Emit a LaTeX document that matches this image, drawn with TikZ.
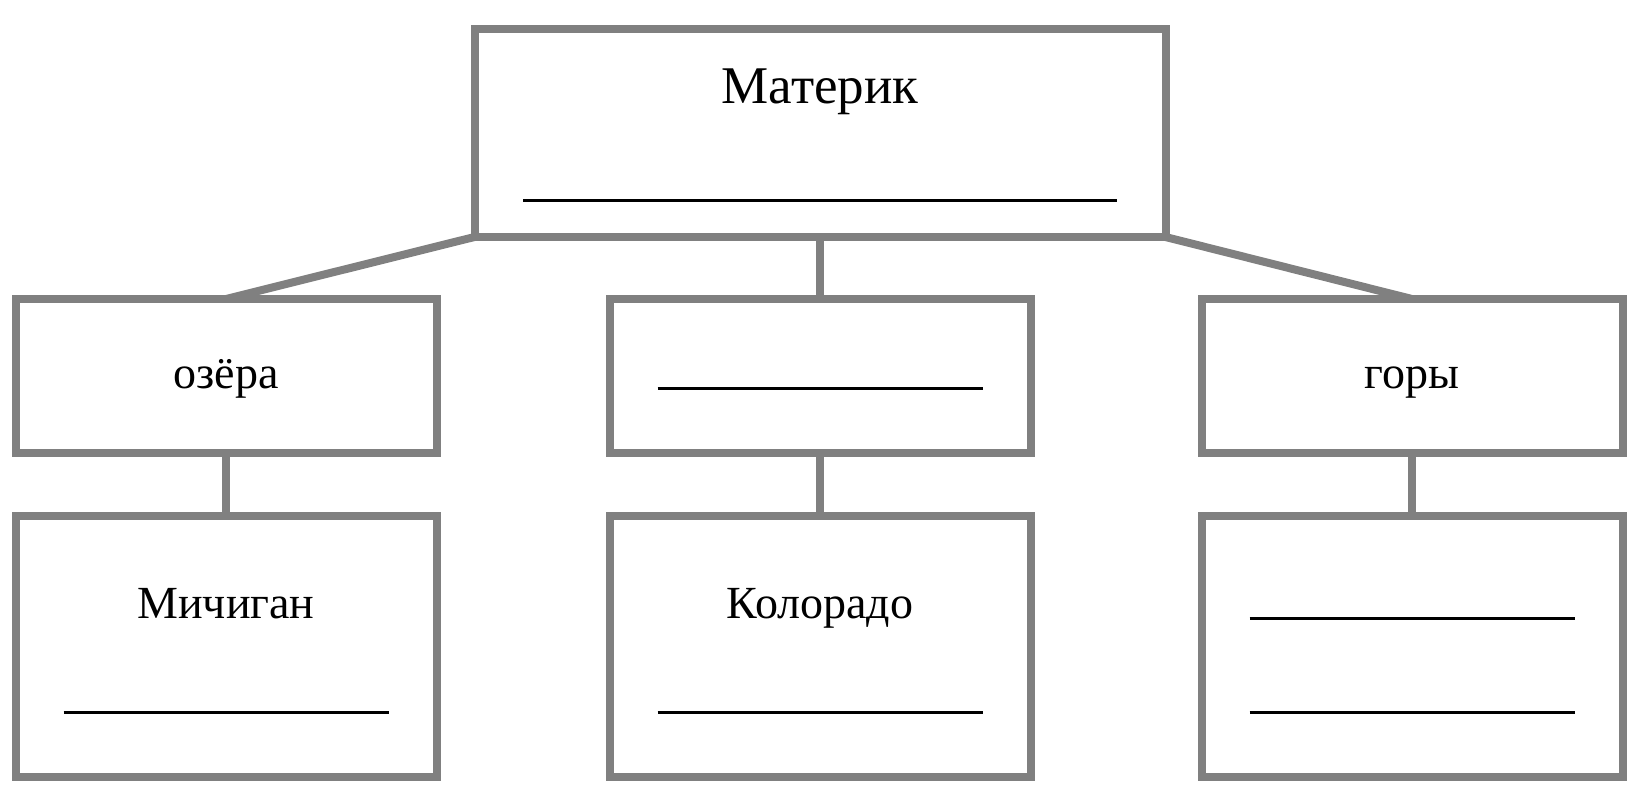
\documentclass[tikz,border=0pt]{standalone}
\usepackage{fontspec}
\setmainfont{Liberation Serif}
\usepackage{tikz}
\usetikzlibrary{shapes,calc}
\usepackage{color}
\definecolor{framegray}{RGB}{128,128,128}

\begin{document}
\begin{tikzpicture}[x=0.5pt, y=-0.5pt, outer sep=0pt, inner sep=0pt,
  box/.style={draw=framegray, line width=4pt, rectangle, minimum width=210.5pt},
  link/.style={draw=framegray, line width=4pt},
  blank/.style={black, line width=1.5pt},
  word/.style={anchor=base, font=\fontsize{23}{27}\selectfont}]

\useasboundingbox (0, 0) rectangle (1651, 793);

\node [box, minimum width=345.5pt, minimum height=104pt] at (820, 133) (MATERIK) {};
\node [word, font=\fontsize{26.5}{31}\selectfont] at (820, 103) (MATERIKTXT) {Материк};
\draw [blank] ($(MATERIK.center)+(-297, 67)$) -- ($(MATERIK.center)+(297, 67)$);

\node [box, minimum height=77pt] at (226, 376) (LAKES) {};
\node [box, minimum height=77pt] at (820, 376) (MIDDLE) {};
\node [box, minimum height=77pt] at (1412, 376) (MOUNTAINS) {};

\node [word] at (226, 388) (LAKESTXT) {озёра};
\draw [blank] ($(MIDDLE.center)+(-162.5, 12)$) -- ($(MIDDLE.center)+(162.5, 12)$);
\node [word] at (1412, 388) (MOUNTAINSTXT) {горы};

\node [box, minimum height=130.5pt] at (226, 646.5) (MICHIGAN) {};
\node [box, minimum height=130.5pt] at (820, 646.5) (COLORADO) {};
\node [box, minimum height=130.5pt] at (1412, 646.5) (PEAKS) {};

\node [word] at (226, 618) (MICHIGANTXT) {Мичиган};
\node [word] at (820, 618) (COLORADOTXT) {Колорадо};
%\node [word] at (1412, 618) (PEAKSTXT) {};

\draw [blank] ($(MICHIGAN.center)+(-162.5, 65.5)$) -- ($(MICHIGAN.center)+(162.5, 65.5)$);
\draw [blank] ($(COLORADO.center)+(-162.5, 65.5)$) -- ($(COLORADO.center)+(162.5, 65.5)$);
\draw [blank] ($(PEAKS.center)+(-162.5, -28.5)$) -- ($(PEAKS.center)+(162.5, -28.5)$);
\draw [blank] ($(PEAKS.center)+(-162.5, 65.5)$) -- ($(PEAKS.center)+(162.5, 65.5)$);

\draw [link] (MATERIK.south west) -- (LAKES.north);
\draw [link] (MATERIK.south) -- (MIDDLE.north);
\draw [link] (MATERIK.south east) -- (MOUNTAINS.north);

\draw [link] (LAKES.south) -- (MICHIGAN.north);
\draw [link] (MIDDLE.south) -- (COLORADO.north);
\draw [link] (MOUNTAINS.south) -- (PEAKS.north);

\end{tikzpicture}
\end{document}
